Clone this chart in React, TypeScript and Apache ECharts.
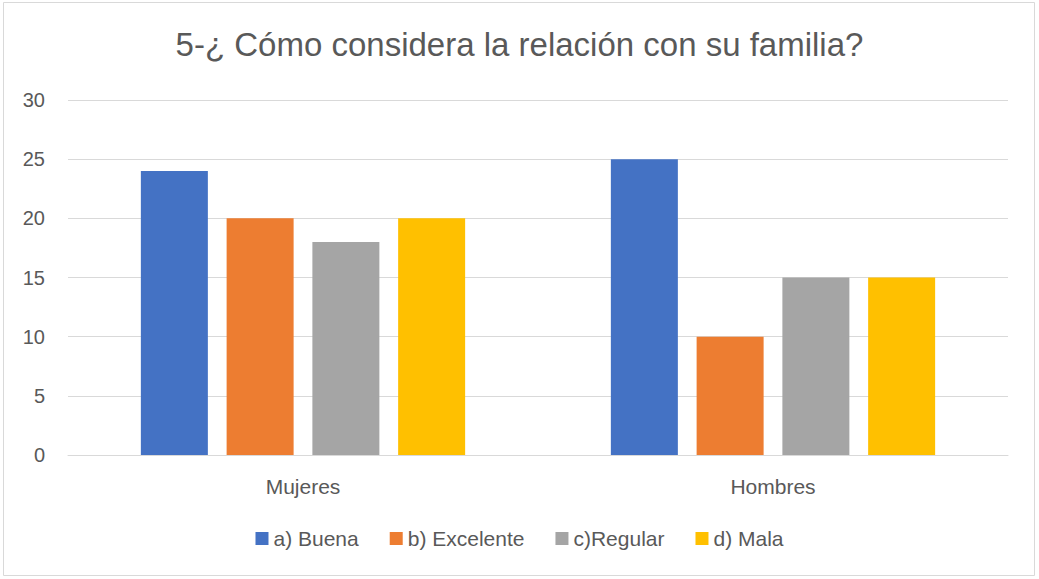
import React, { useEffect, useRef } from "react";
import * as echarts from "echarts";

const categories = ["Mujeres", "Hombres"];
const seriesNames = ["a) Buena", "b) Excelente", "c)Regular", "d) Mala"];
const buena = [24, 25];
const excelente = [20, 10];
const regular = [18, 15];
const mala = [20, 15];
const yTicks = { min: 0, max: 30, interval: 5 };
const colors = ["#4472C4", "#ED7D31", "#A5A5A5", "#FFC000"];

export default function App() {
  const ref = useRef<HTMLDivElement>(null);
  useEffect(() => {
    document.body.style.margin = "0";
    const chart = echarts.init(ref.current!, null, { renderer: "svg" });
    const values = [buena, excelente, regular, mala];
    const font = "'Liberation Sans', Arial, sans-serif";
    chart.setOption({
      animation: false,
      backgroundColor: "#ffffff",
      textStyle: { fontFamily: font },
      title: {
        text: "5-¿ Cómo considera la relación con su familia?",
        left: "center",
        top: 23,
        textStyle: { fontFamily: font, fontSize: 33, fontWeight: "normal", color: "#595959" },
      },
      graphic: [
        {
          type: "rect",
          shape: { x: 3.5, y: 2.5, width: 1031, height: 573 },
          style: { fill: "none", stroke: "#d9d9d9", lineWidth: 1 },
          silent: true,
        },
      ],
      legend: {
        bottom: 25,
        left: "center",
        itemWidth: 13,
        itemHeight: 13,
        itemGap: 31,
        icon: "rect",
        textStyle: { fontFamily: font, fontSize: 21, color: "#595959" },
        data: seriesNames,
      },
      grid: { left: 68, right: 31, top: 100, bottom: 124 },
      xAxis: {
        type: "category",
        data: categories,
        axisLine: { lineStyle: { color: "#d9d9d9", width: 1 } },
        axisTick: { show: false },
        axisLabel: { fontFamily: font, fontSize: 21, color: "#595959", margin: 21 },
      },
      yAxis: {
        type: "value",
        min: yTicks.min,
        max: yTicks.max,
        interval: yTicks.interval,
        axisLine: { show: false },
        axisTick: { show: false },
        splitLine: { lineStyle: { color: "#d9d9d9", width: 1 } },
        axisLabel: { fontFamily: font, fontSize: 20, color: "#595959", margin: 23 },
      },
      series: seriesNames.map((name, i) => ({
        name,
        type: "bar",
        data: values[i],
        barWidth: 67,
        barGap: "28%",
        itemStyle: { color: colors[i] },
      })),
    });
    return () => chart.dispose();
  }, []);
  return <div ref={ref} style={{ width: 1039, height: 579 }} />;
}
